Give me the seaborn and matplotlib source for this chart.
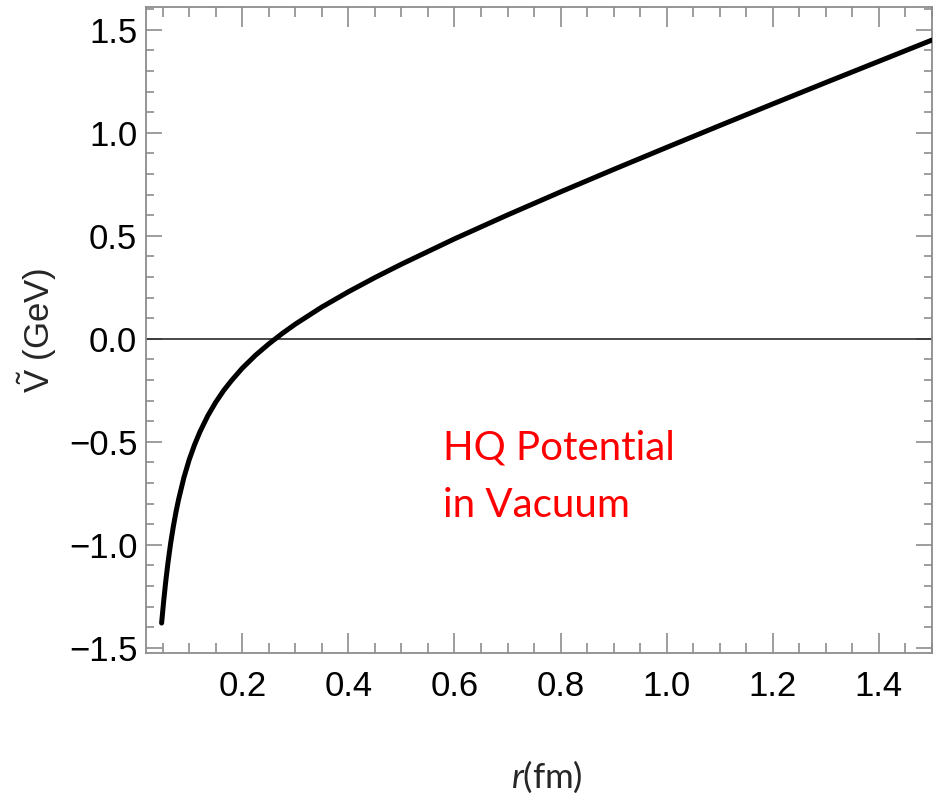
import matplotlib
matplotlib.use("Agg")
import matplotlib.pyplot as plt
from matplotlib.ticker import MultipleLocator
import seaborn as sns
import pandas as pd

# ---- data ----
r_fm = [0.048, 0.052, 0.056, 0.060, 0.065, 0.070, 0.075, 0.080, 0.090, 0.100,
        0.110, 0.120, 0.135, 0.150, 0.165, 0.180, 0.200, 0.225, 0.250, 0.275,
        0.300, 0.350, 0.400, 0.450, 0.500, 0.600, 0.700, 0.800, 0.900, 1.000,
        1.100, 1.200, 1.300, 1.400, 1.500]
V_GeV = [-1.380, -1.271, -1.173, -1.087, -0.993, -0.913, -0.842, -0.780, -0.674, -0.587,
         -0.515, -0.453, -0.374, -0.308, -0.251, -0.202, -0.143, -0.080, -0.025, 0.025,
         0.071, 0.154, 0.228, 0.297, 0.362, 0.485, 0.601, 0.713, 0.822, 0.929,
         1.035, 1.140, 1.244, 1.347, 1.450]
x_major_ticks = [0.2, 0.4, 0.6, 0.8, 1.0, 1.2, 1.4]
y_major_ticks = [-1.5, -1.0, -0.5, 0.0, 0.5, 1.0, 1.5]
annotation_lines = ["HQ Potential", "in Vacuum"]

df = pd.DataFrame({"r": r_fm, "V": V_GeV})

sns.set_style("ticks")
plt.rcParams["font.family"] = ["Liberation Sans", "DejaVu Sans"]
plt.rcParams["mathtext.fontset"] = "custom"
plt.rcParams["mathtext.rm"] = "Liberation Sans"
plt.rcParams["mathtext.it"] = "Lato:italic"
plt.rcParams["axes.unicode_minus"] = True

fig = plt.figure(figsize=(9.43, 7.95), dpi=100)
ax = fig.add_axes([0.1545, 0.1782, 0.9883 - 0.1545, 0.9908 - 0.1782])

ax.axhline(0, color="#2a2a2a", lw=1.2, zorder=1)
sns.lineplot(data=df, x="r", y="V", ax=ax, color="black", lw=3.6,
             sort=False, estimator=None, zorder=3)

ax.set_xlim(0.018, 1.5)
ax.set_ylim(-1.527, 1.609)

ax.set_xticks(x_major_ticks)
ax.set_xticklabels([f"{t:.1f}" for t in x_major_ticks])
ax.set_yticks(y_major_ticks)
ax.set_yticklabels([f"{t:.1f}".replace("-", "\u2212") for t in y_major_ticks])
ax.xaxis.set_minor_locator(MultipleLocator(0.05))
ax.yaxis.set_minor_locator(MultipleLocator(0.1))

frame_col = "#8c8c8c"
for s in ax.spines.values():
    s.set_color(frame_col)
    s.set_linewidth(1.3)

ax.tick_params(axis="both", which="both", direction="in", color=frame_col,
               width=1.2, top=True, right=True, labelcolor="black")
ax.tick_params(axis="x", which="major", length=14.5, pad=12, labelsize=25)
ax.tick_params(axis="x", which="minor", length=7)
ax.tick_params(axis="y", which="major", length=11.5, pad=6, labelsize=25)
ax.tick_params(axis="y", which="minor", length=6)

ax.set_xlabel("")
ax.set_ylabel("")

fig.text(0.580, 0.0226, r"$\mathit{r}$(fm)", fontsize=25, family=["Lato", "DejaVu Sans"],
         ha="center", va="center")
fig.text(0.039, 0.585, r"$\tilde{\mathrm{V}}$ (GeV)", fontsize=25, rotation=90,
         ha="center", va="center")

ax.text(0.578, -0.584, annotation_lines[0], color="#ff0000", fontsize=29,
        family=["Lato", "DejaVu Sans"], ha="left", va="baseline")
ax.text(0.578, -0.866, annotation_lines[1], color="#ff0000", fontsize=29,
        family=["Lato", "DejaVu Sans"], ha="left", va="baseline")

fig.savefig("out.png", dpi=100, facecolor="white")
